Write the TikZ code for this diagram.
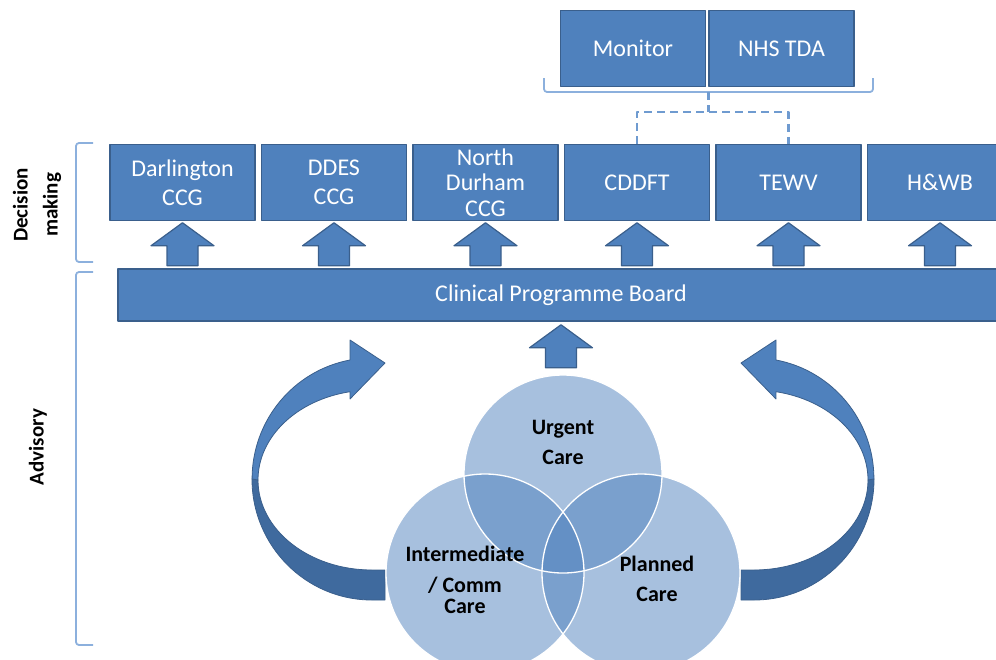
\documentclass[tikz,border=0pt]{standalone}
\usepackage{fontspec}
\setmainfont{Carlito}
\usetikzlibrary{positioning,calc}

\definecolor{boxblue}{HTML}{4F81BD}
\definecolor{boxedge}{HTML}{3A5F8C}
\definecolor{darkblue}{HTML}{3F6A9E}
\definecolor{brkblue}{HTML}{8CB0DD}
\definecolor{dashblue}{HTML}{6F9BD0}

\tikzset{
  orgbox/.style={draw=boxedge, fill=boxblue, line width=1.5pt, minimum width=145pt, minimum height=76pt,
    inner sep=0pt, text=white, align=center, font=\fontsize{24}{29}\selectfont},
  uparrow/.pic={\filldraw[fill=boxblue, draw=boxedge, line width=1.2pt]
    (0,0) -- (31.5,23) -- (15.5,23) -- (15.5,43) -- (-15.5,43) -- (-15.5,23) -- (-31.5,23) -- cycle;},
  bentarrow/.pic={
    \filldraw[fill=darkblue, draw=boxedge, line width=0.8pt]
      (13,121) -- (0,121) arc[start angle=90, end angle=180, x radius=120, y radius=121]
      -- (-114,1) arc[start angle=180, end angle=90, x radius=114, y radius=90] -- (13,91) -- cycle;
    \filldraw[fill=boxblue, draw=boxedge, line width=0.8pt]
      (-22,-119) arc[start angle=259.4, end angle=180, x radius=120, y radius=121]
      -- (-114,1) arc[start angle=180, end angle=258.9, x radius=114, y radius=90]
      -- (-22,-80) -- (13,-116) -- (-22,-139) -- cycle;},
  bracket/.style={draw=brkblue, line width=1.8pt, rounded corners=3pt},
  dashconn/.style={draw=dashblue, line width=2.5pt, dash pattern=on 8pt off 5pt},
  sidelabel/.style={rotate=90, font=\bfseries\fontsize{21}{30}\selectfont, align=center},
  venntext/.style={font=\bfseries\fontsize{22}{30}\selectfont, align=center}
}

\begin{document}
\begin{tikzpicture}[x=1pt, y=-1pt, line join=round]
\clip (0,0) rectangle (996,659);
% regulators
\node[orgbox] (mon) at (633,48.5) {Monitor};
\node[orgbox, right=2pt of mon] (tda) {NHS TDA};
\draw[bracket] (544,78) -- (544,92) -- (873,92) -- (873,78);
\coordinate (brk) at (708.5,92);
% decision making row
\node[orgbox] (dar) at (182.5,182.5) {Darlington\\CCG};
\node[orgbox, right=5pt of dar] (ddes) {DDES\\CCG};
\node[orgbox, right=5pt of ddes, font=\fontsize{24}{25.5}\selectfont] (ndur) {North\\Durham\\CCG};
\node[orgbox, right=5pt of ndur] (cddft) {CDDFT};
\node[orgbox, right=5pt of cddft] (tewv) {TEWV};
\node[orgbox, right=5pt of tewv] (hwb) {H\&WB};
\draw[dashconn] (brk) -- ++(0,20);
\draw[dashconn] (cddft.north) |- ($(brk)+(0,20)$) -| (tewv.north);
% board
\node[orgbox, minimum width=886pt, minimum height=52pt] (cpb) at (561,295) {Clinical Programme Board};
\foreach \b in {dar,ddes,ndur,cddft,tewv,hwb}
  \pic at ($(\b.south)+(0,1.5)$) {uparrow};
\pic at ($(cpb.south)+(0,3)$) {uparrow};
% side brackets
\draw[bracket] (93,143) -- (76,143) -- (76,262) -- (93,262);
\draw[bracket] (93,272) -- (76,272) -- (76,645) -- (93,645);
\node[sidelabel] (dec) at (37,205) {Decision\\making};
\node[sidelabel] (adv) at (38,447) {Advisory};
% loop arrows
\pic at (372,479) {bentarrow};
\pic[xscale=-1] at (754,479) {bentarrow};
% venn
\coordinate (urg) at (563,474);
\coordinate (imc) at (485,573);
\coordinate (pln) at (641,573);
\foreach \c in {urg,imc,pln}
  \fill[boxblue, fill opacity=0.5] (\c) circle[radius=99];
\foreach \c in {urg,imc,pln}
  \draw[white, line width=1.3pt] (\c) circle[radius=99];
\node[venntext] (urgtxt) at (563,442) {Urgent\\Care};
\node[venntext, font=\bfseries\fontsize{22}{25}\selectfont] (imctxt) at (465,580) {Intermediate\\[6pt]/ Comm\\[-4pt]Care};
\node[venntext] (plntxt) at (657,579) {Planned\\Care};
\end{tikzpicture}
\end{document}
